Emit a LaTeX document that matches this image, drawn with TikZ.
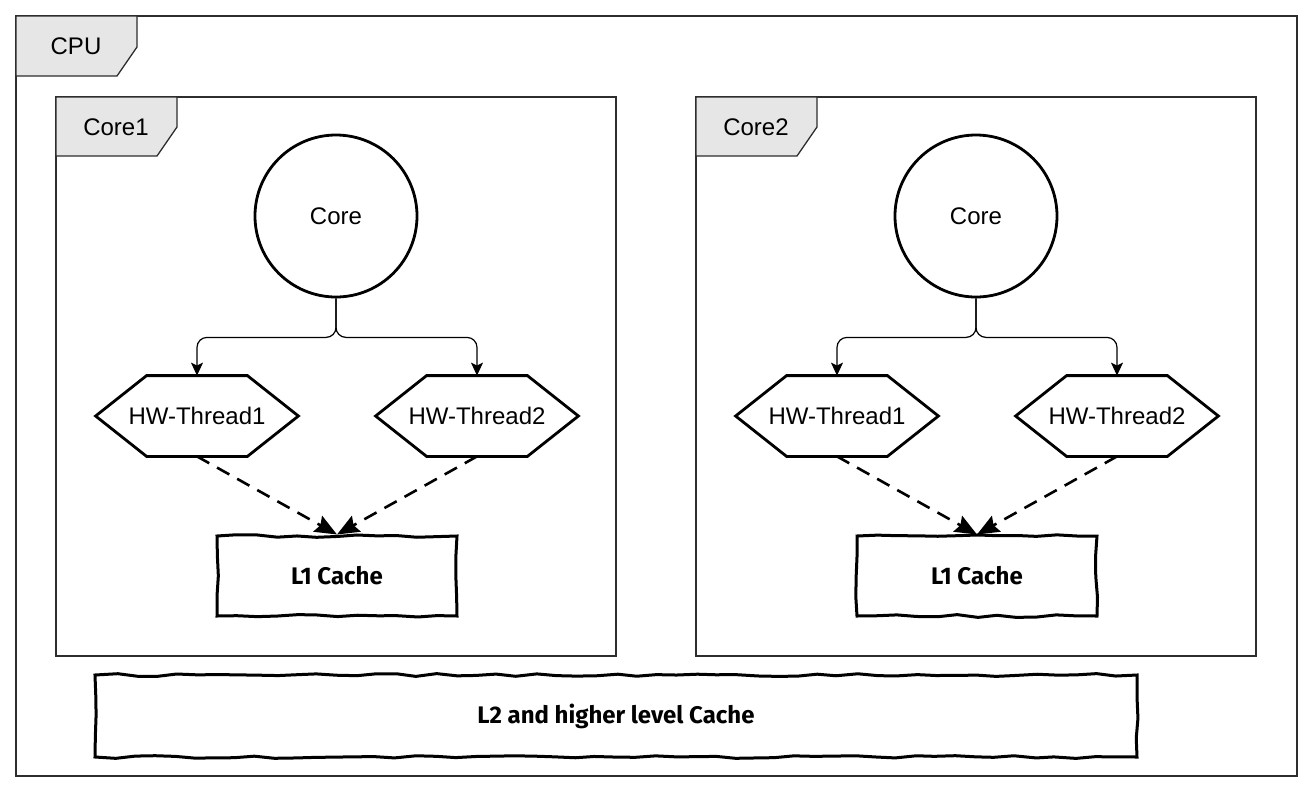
\documentclass[tikz,border=0pt]{standalone}
\usepackage{fontspec}
\setmainfont{Liberation Sans}
\newfontfamily\sketchfont{Fira Sans}
\usetikzlibrary{arrows.meta}
\usetikzlibrary{decorations.pathmorphing}
\definecolor{tabgray}{RGB}{230,230,230}
\definecolor{framegray}{RGB}{45,45,45}

\begin{document}
\begin{tikzpicture}[x=.5pt,y=-.5pt,
  frame/.style={draw=framegray, line width=.65pt},
  tab/.style={draw=framegray, line width=.65pt, fill=tabgray},
  txt/.style={font=\fontsize{12}{14}\selectfont, inner sep=0},
  corecircle/.style={circle, draw, line width=1.4pt, minimum size=81pt, inner sep=0, txt},
  hwthread/.style={minimum width=101pt, minimum height=40pt, inner sep=0, txt},
  hexline/.style={line width=1.4pt, line join=miter},
  sketchbox/.style={draw, line width=1.5pt, decorate, decoration={random steps, segment length=10pt, amplitude=.7pt},
    font=\sketchfont\bfseries\fontsize{12}{14}\selectfont},
  edge/.style={->, >={Stealth[length=6.5pt, width=6pt, inset=1.5pt]}, line width=.6pt, rounded corners=5pt},
  dashedge/.style={->, >={Stealth[length=11pt, width=9pt, inset=1.5pt]}, line width=1.3pt, dash pattern=on 7pt off 4.5pt}]
\pgfmathsetseed{7}
\useasboundingbox (0,0) rectangle (1314,794);
% CPU frame
\draw[frame] (16,16) rectangle (1297,776);
\draw[tab] (16,16) -- (137,16) -- (137,47) -- (117,76) -- (16,76) -- cycle;
\node[txt] (cpulabel) at (76,46) {CPU};
% the two cores
\foreach \dx/\n in {0/1, 640/2} {
 \draw[frame] (56+\dx,97) rectangle (616+\dx,656);
 \draw[tab] (56+\dx,97) -- ++(121,0) -- ++(0,30) -- ++(-20,29) -- (56+\dx,156) -- cycle;
 \node[txt] (corelabel\n) at (116+\dx,127) {Core\n};
 \node[corecircle] (core\n) at (336+\dx,216) {Core};
 \node[hwthread] (ta\n) at (197+\dx,416) {HW-Thread1};
 \node[hwthread] (tb\n) at (477+\dx,416) {HW-Thread2};
 \foreach \t in {ta\n, tb\n}
  \draw[hexline] (\t.west) -- ([xshift=25.5pt]\t.north west) -- ([xshift=-25.5pt]\t.north east)
   -- (\t.east) -- ([xshift=-25.5pt]\t.south east) -- ([xshift=25.5pt]\t.south west) -- cycle;
 \node[sketchbox, minimum width=120pt, minimum height=40pt] (lone\n) at (337+\dx,576) {L1 Cache};
 \draw[edge] (core\n.south) -- ++(0,39) -| (ta\n.north);
 \draw[edge] (core\n.south) -- ++(0,39) -| (tb\n.north);
 \draw[dashedge] (ta\n.south) -- (lone\n.north);
 \draw[dashedge] (tb\n.south) -- (lone\n.north);
}
\node[sketchbox, minimum width=521pt, minimum height=41pt] (ltwo) at (616,716) {L2 and higher level Cache};
\end{tikzpicture}
\end{document}
